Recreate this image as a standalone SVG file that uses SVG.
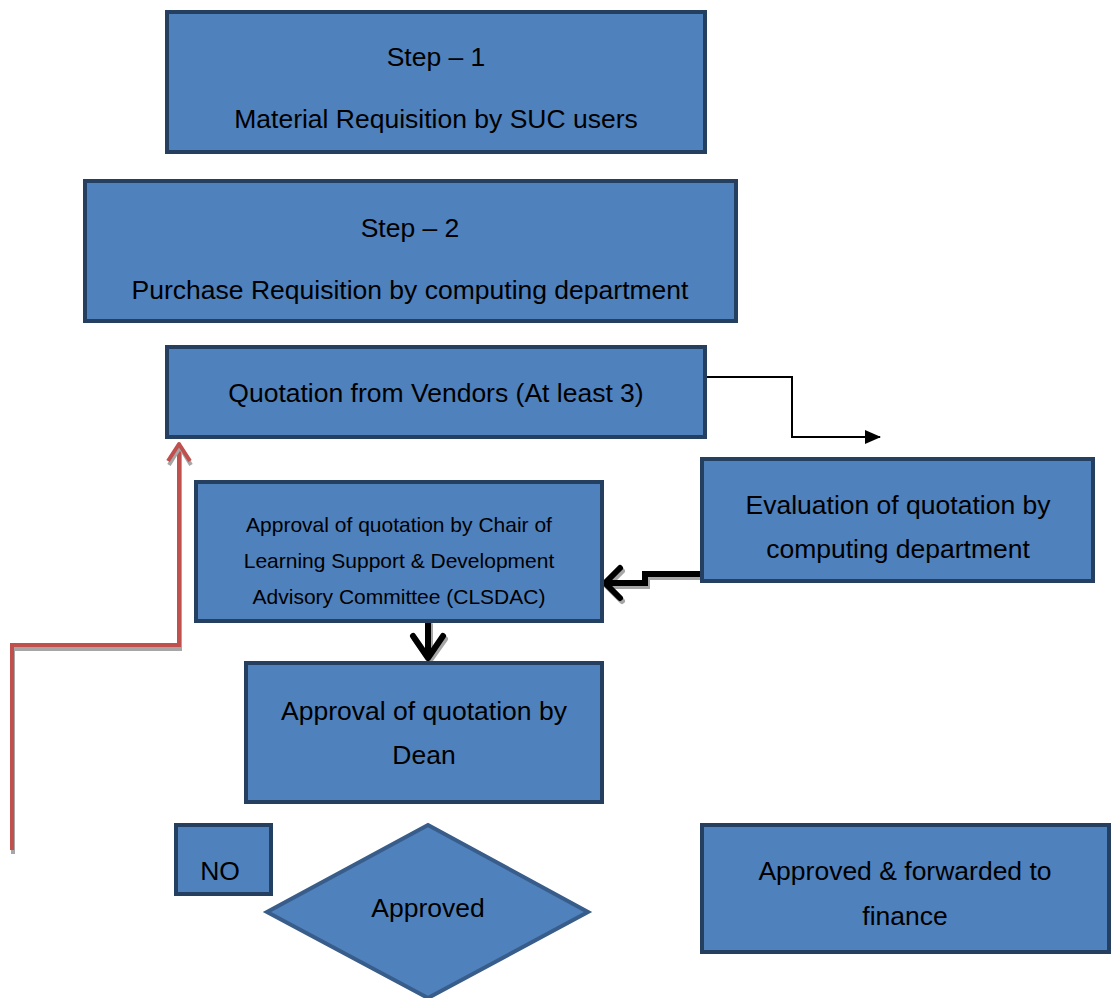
<svg xmlns="http://www.w3.org/2000/svg" width="1111" height="998" viewBox="0 0 1111 998">
<defs>
<style>
.box{fill:#4f81bd;stroke:#243f60;stroke-width:4}
.t{font-family:"Liberation Sans",Arial,sans-serif;font-size:26.5px;fill:#000;text-anchor:middle}
.s{font-size:21px}
.thin{fill:none;stroke:#000;stroke-width:2}
.thick{fill:none;stroke:#000;stroke-width:6}
.shadow{fill:none;stroke:#a6a6a6;stroke-width:6}
.red{fill:none;stroke:#c0504d;stroke-width:4}
</style>
<marker id="tri" markerWidth="16" markerHeight="14" refX="15" refY="7" orient="auto" markerUnits="userSpaceOnUse" viewBox="0 0 16 14"><path d="M0,0 L16,7 L0,14 z" fill="#000"/></marker>
</defs>
<rect width="1111" height="998" fill="#fff"/>
<g id="connectors">
<path class="thin" d="M705,377 H792 V437 H880" marker-end="url(#tri)"/>
<path class="shadow" d="M703,574 H645 V583 H606" transform="translate(2,3)"/>
<path class="shadow" d="M620,568 L605,583 L620,598" transform="translate(2,3)" stroke-linecap="round" stroke-linejoin="round"/>
<path class="thick" d="M703,574 H645 V583 H606"/>
<path class="thick" d="M620,568 L605,583 L620,598" stroke-linecap="round" stroke-linejoin="round"/>
<path class="shadow" d="M428,623 V658 M413,637 L428,658 L443,637" transform="translate(2,2)" stroke-linecap="round" stroke-linejoin="round"/>
<path class="thick" d="M428,623 V658"/>
<path class="thick" d="M413,636 L428,658 L443,636" stroke-linecap="round" stroke-linejoin="round"/>
<path d="M12,850 V645 H179 V444" fill="none" stroke="#a6a6a6" stroke-width="4" transform="translate(1,4)"/>
<path class="red" d="M12,850 V645 H179 V444"/>
<path d="M168,462 L179,444 L190,462" fill="none" stroke="#a6a6a6" stroke-width="4" transform="translate(1,3)"/>
<path class="red" d="M168,461 L179,444 L190,461" stroke-linejoin="round"/>
</g>
<g id="step1">
<rect class="box" x="167" y="12" width="538" height="140"/>
<text class="t" x="436" y="66">Step – 1</text>
<text class="t" x="436" y="128">Material Requisition by SUC users</text>
</g>
<g id="step2">
<rect class="box" x="85" y="181" width="651" height="140"/>
<text class="t" x="410" y="237">Step – 2</text>
<text class="t" x="410" y="299">Purchase Requisition by computing department</text>
</g>
<g id="quotation">
<rect class="box" x="167" y="347" width="538" height="90"/>
<text class="t" x="436" y="402">Quotation from Vendors (At least 3)</text>
</g>
<g id="evaluation">
<rect class="box" x="702" y="459" width="391" height="122"/>
<text class="t" x="898" y="514">Evaluation of quotation by</text>
<text class="t" x="898" y="558">computing department</text>
</g>
<g id="clsdac">
<rect class="box" x="196" y="482" width="406" height="139"/>
<text class="t s" x="399" y="532">Approval of quotation by Chair of</text>
<text class="t s" x="399" y="568">Learning Support &amp; Development</text>
<text class="t s" x="399" y="604">Advisory Committee (CLSDAC)</text>
</g>
<g id="dean">
<rect class="box" x="246" y="663" width="356" height="139"/>
<text class="t" x="424" y="720">Approval of quotation by</text>
<text class="t" x="424" y="764">Dean</text>
</g>
<g id="no">
<rect class="box" x="176" y="825" width="95" height="69"/>
<text class="t" x="220" y="880">NO</text>
</g>
<g id="approved">
<polygon points="428,825 588,912 428,998 267,912" fill="#4f81bd" stroke="#385d8a" stroke-width="4"/>
<text class="t" x="428" y="917">Approved</text>
</g>
<g id="forwarded">
<rect class="box" x="702" y="825" width="407" height="127"/>
<text class="t" x="905" y="880">Approved &amp; forwarded to</text>
<text class="t" x="905" y="925">finance</text>
</g>
</svg>
